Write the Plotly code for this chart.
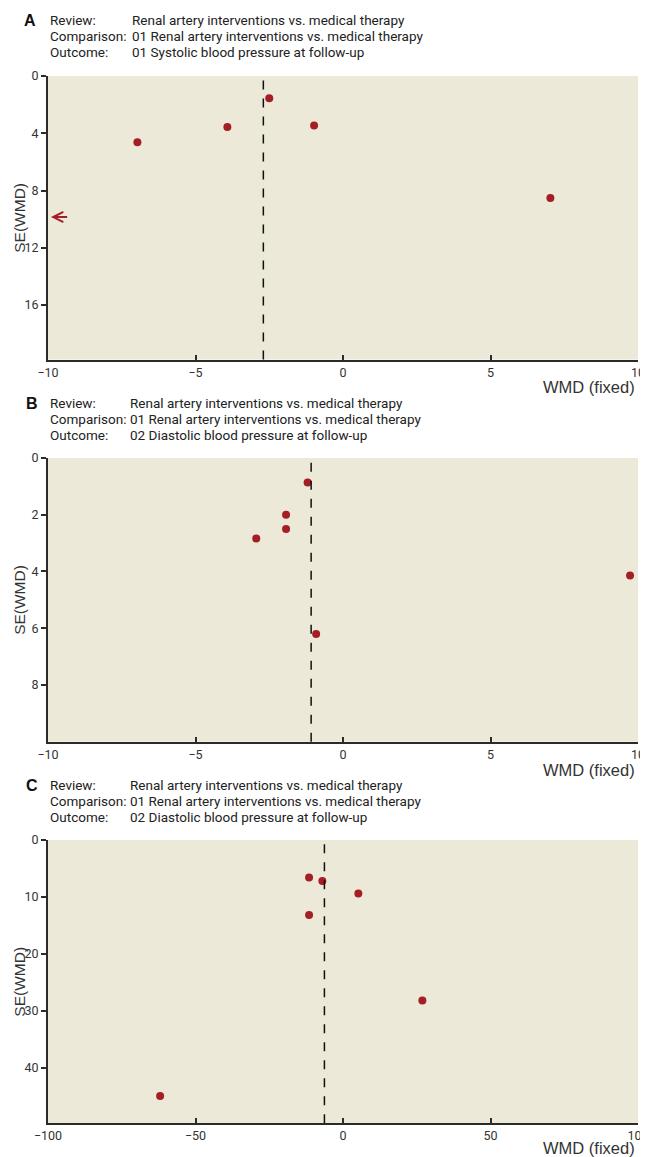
import plotly.graph_objects as go

# page is drawn with an 8px body margin; lay out in page pixels and shift
OFF = 8
W, H = 648, 1149

# ---------------- data ----------------
a_wmd = [-6.97, -3.92, -2.5, -0.98, 7.03]
a_se = [4.62, 3.57, 1.56, 3.45, 8.52]
a_pooled = -2.7
a_arrow_se = 9.85

b_wmd = [-1.2, -1.93, -1.93, -2.94, 9.73, -0.91]
b_se = [0.86, 2.0, 2.5, 2.84, 4.14, 6.2]
b_pooled = -1.08

c_wmd = [-11.5, -7.0, 5.2, -11.5, 26.9, -62.0]
c_se = [6.6, 7.2, 9.4, 13.2, 28.2, 45.0]
c_pooled = -6.3

ab_xticks = [-10, -5, 0, 5, 10]
ab_xticklabels = ["\u221210", "\u22125", "0", "5", "10"]
c_xticks = [-100, -50, 0, 50, 100]
c_xticklabels = ["\u2212100", "\u221250", "0", "50", "100"]
a_yticks = [0, 4, 8, 12, 16]
b_yticks = [0, 2, 4, 6, 8]
c_yticks = [0, 10, 20, 30, 40]

header_labels = ["Review:", "Comparison:", "Outcome:"]
a_header = ["Renal artery interventions vs. medical therapy",
            "01 Renal artery interventions vs. medical therapy",
            "01 Systolic blood pressure at follow-up"]
b_header = ["Renal artery interventions vs. medical therapy",
            "01 Renal artery interventions vs. medical therapy",
            "02 Diastolic blood pressure at follow-up"]
c_header = ["Renal artery interventions vs. medical therapy",
            "01 Renal artery interventions vs. medical therapy",
            "02 Diastolic blood pressure at follow-up"]

# ---------------- styles ----------------
BG = "#ECE9D8"
DOT = "#A51D25"
INK = "#2b2b2b"
COND = "Roboto, Liberation Sans, sans-serif"
REG = "Liberation Sans, Arial, sans-serif"


def py(px):
    return 1 - (px - OFF) / H


def px_x(px):
    return (px - OFF) / W


X0, X1 = 48, 638
panels = [
    dict(name="A", x=a_wmd, y=a_se, pooled=a_pooled, xr=[-10, 10], yr=[19.8, 0],
         xt=ab_xticks, xtl=ab_xticklabels, yt=a_yticks, top=76, bot=359.5,
         head=a_header, hy=[20, 36, 52], lx=22, vx=130, tgap=28),
    dict(name="B", x=b_wmd, y=b_se, pooled=b_pooled, xr=[-10, 10], yr=[10, 0],
         xt=ab_xticks, xtl=ab_xticklabels, yt=b_yticks, top=458, bot=741.7,
         head=b_header, hy=[403, 419, 435], lx=24, vx=128, tgap=28),
    dict(name="C", x=c_wmd, y=c_se, pooled=c_pooled, xr=[-100, 100], yr=[49.8, 0],
         xt=c_xticks, xtl=c_xticklabels, yt=c_yticks, top=840, bot=1123.3,
         head=c_header, hy=[785, 801, 817], lx=24, vx=128, tgap=25),
]

fig = go.Figure()
annotations = []
shapes = []
layout = dict(
    width=W, height=H, autosize=False,
    margin=dict(l=0, r=0, t=0, b=0, pad=0),
    paper_bgcolor="white", plot_bgcolor=BG,
    showlegend=False,
)

for i, p in enumerate(panels, start=1):
    xa = "x" if i == 1 else f"x{i}"
    ya = "y" if i == 1 else f"y{i}"
    fig.add_trace(go.Scatter(
        x=p["x"], y=p["y"], mode="markers", xaxis=xa, yaxis=ya,
        marker=dict(color=DOT, size=8, line=dict(width=0)),
        hoverinfo="x+y",
    ))
    layout[f"xaxis{'' if i == 1 else i}"] = dict(
        domain=[px_x(X0), px_x(X1)], anchor=ya, range=p["xr"], automargin=False,
        tickmode="array", tickvals=p["xt"], ticktext=p["xtl"], ticklabeloverflow="allow",
        showgrid=False, zeroline=False, showline=True, linecolor=INK, linewidth=2,
        ticks="inside", ticklen=5, tickwidth=1.5, tickcolor=INK,
        tickfont=dict(family=COND, size=12.5, color="#333"),
    )
    layout[f"yaxis{'' if i == 1 else i}"] = dict(
        domain=[py(p["bot"]), py(p["top"])], anchor=xa, range=p["yr"], automargin=False,
        tickmode="array", tickvals=p["yt"],
        showgrid=False, zeroline=False, showline=True, linecolor=INK, linewidth=2,
        ticks="outside", ticklen=5, tickwidth=1.5, tickcolor=INK,
        tickfont=dict(family=COND, size=12.5, color="#333"),
    )
    # pooled estimate dashed line
    shapes.append(dict(
        type="line", xref=xa, yref=f"{ya} domain", x0=p["pooled"], x1=p["pooled"],
        y0=0, y1=1, line=dict(color="#111", width=1.5, dash="dash"),
    ))
    # header
    annotations.append(dict(
        text=f"<b>{p['name']}</b>", x=px_x(p["lx"]), y=py(p["hy"][0]),
        xref="paper", yref="paper", xanchor="left", yanchor="middle", showarrow=False,
        font=dict(family=REG, size=16, color="#111"),
    ))
    for lab, val, hy in zip(header_labels, p["head"], p["hy"]):
        annotations.append(dict(
            text=lab, x=px_x(48), y=py(hy), xref="paper", yref="paper",
            xanchor="left", yanchor="middle", showarrow=False,
            font=dict(family=COND, size=13.5, color="#222"),
        ))
        annotations.append(dict(
            text=val, x=px_x(p["vx"]), y=py(hy), xref="paper", yref="paper",
            xanchor="left", yanchor="middle", showarrow=False,
            font=dict(family=COND, size=13.5, color="#222"),
        ))
    # axis titles
    annotations.append(dict(
        text="WMD (fixed)", x=px_x(637), y=py(p["bot"] + p["tgap"]), xref="paper", yref="paper",
        xanchor="right", yanchor="middle", showarrow=False,
        font=dict(family=REG, size=16.5, color="#333"),
    ))
    annotations.append(dict(
        text="SE(WMD)", x=px_x(20), y=py((p["top"] + p["bot"]) / 2), xref="paper", yref="paper",
        xanchor="center", yanchor="middle", showarrow=False, textangle=-90,
        font=dict(family=REG, size=15.5, color="#333"),
    ))

# off-scale arrow in panel A
annotations.append(dict(
    x=-9.9, y=a_arrow_se, ax=-9.3, ay=a_arrow_se, xref="x", yref="y", axref="x", ayref="y",
    text="", showarrow=True, arrowhead=5, arrowsize=1, arrowwidth=2, arrowcolor=DOT,
))

layout["annotations"] = annotations
layout["shapes"] = shapes
fig.update_layout(**layout)
fig.write_html("out.html", default_width="648px", default_height="1149px")
